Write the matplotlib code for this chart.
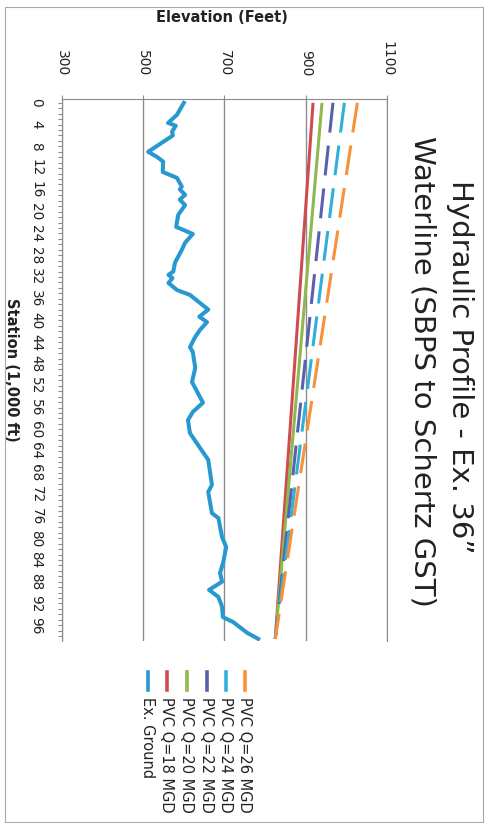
import matplotlib
matplotlib.use("Agg")
import matplotlib.pyplot as plt
from matplotlib.lines import Line2D
from matplotlib.patches import Rectangle

# ground profile (station in 1,000 ft, elevation in ft)
ground_station = [0, 2.2, 3.7, 4.2, 5.3, 6.0, 9.0, 9.9, 10.8, 12.7, 13.8, 15.4, 15.9,
                  16.9, 17.8, 18.8, 20.6, 22.8, 24.1, 25.7, 27.0, 29.4, 31.0, 31.6,
                  32.2, 33.1, 34.4, 35.3, 36.8, 38.0, 39.3, 40.3, 41.7, 43.0, 44.9,
                  45.8, 48.7, 51.3, 55.1, 56.8, 58.3, 60.7, 64.2, 65.6, 70.2, 71.5,
                  75.4, 76.3, 79.8, 81.6, 84.4, 86.4, 88.0, 89.5, 90.8, 92.6, 94.5,
                  95.4, 97.4, 98.5]
ground_elev = [600, 583, 561, 580, 571, 573, 512, 533, 549, 548, 583, 595, 590,
               603, 590, 603, 586, 581, 622, 603, 595, 578, 574, 562,
               572, 562, 583, 615, 640, 660, 638, 657, 640, 628, 615,
               622, 628, 620, 647, 622, 610, 615, 647, 660, 669, 660,
               669, 685, 694, 704, 697, 689, 694, 662, 685, 694, 696,
               721, 756, 783]

# hydraulic grade lines (straight, SBPS to GST)
hgl_station = [0, 98.5]
hgl_labels = ["PVC Q=18 MGD", "PVC Q=20 MGD", "PVC Q=22 MGD", "PVC Q=24 MGD", "PVC Q=26 MGD"]
hgl_start = [918, 940, 967, 995, 1027]
hgl_end = [825, 825, 825, 825, 825]
hgl_colors = ["#cf4b4f", "#8fb84e", "#5b60ad", "#2fb0da", "#f7923a"]
hgl_dashed = [False, False, True, True, True]

ground_label = "Ex. Ground"
ground_color = "#2898d0"

elev_ticks = [300, 500, 700, 900, 1100]
station_ticks = list(range(0, 97, 4))

W, H = 489, 823
fig = plt.figure(figsize=(W / 100, H / 100), dpi=100)
plt.rcParams['font.family'] = ['DejaVu Sans']
txt = "#222222"

ax = fig.add_axes([62 / W, 1 - 640.5 / H, 325 / W, 541.5 / H])
grey = "#8c8c8c"

for lab, s, e, c, d in zip(hgl_labels, hgl_start, hgl_end, hgl_colors, hgl_dashed):
    ls = (0, (9.8, 4.3)) if d else "-"
    ax.plot([s, e], hgl_station, color=c, lw=2.2, linestyle=ls,
            dash_capstyle="butt", solid_capstyle="butt")
ax.plot(ground_elev, ground_station, color=ground_color, lw=2.9, solid_joinstyle="round")

ax.set_xlim(300, 1100)
ax.set_ylim(98.8, -0.7)
ax.set_axisbelow(True)

ax.xaxis.tick_top()
ax.set_xticks(elev_ticks)
ax.set_xticklabels([str(t) for t in elev_ticks])
ax.tick_params(axis="x", length=2.9, width=0.8, color=grey, pad=13.5,
               labelsize=10, labelcolor=txt, labelrotation=-90)
ax.grid(axis="x", color=grey, lw=1)

ax.set_yticks(station_ticks)
ax.set_yticks(range(0, 99), minor=True)
ax.set_yticklabels([str(t) for t in station_ticks])
ax.tick_params(axis="y", which="both", length=2.9, width=0.8, color=grey, pad=10.5,
               labelsize=9.8, labelcolor=txt, labelrotation=-90)
for t in ax.get_yticklabels():
    t.set_va("center")

for side in ["top", "left", "right"]:
    ax.spines[side].set_color(grey)
    ax.spines[side].set_linewidth(0.8)
ax.spines["bottom"].set_visible(False)

# axis titles and chart title, rotated like the scanned page
fig.text(222 / W, 1 - 17 / H, "Elevation (Feet)", ha="center", va="center",
         fontsize=10.5, fontweight="bold", color=txt)
fig.text(11 / W, 1 - 370 / H, "Station (1,000 ft)", ha="center", va="center",
         rotation=-90, fontsize=10.5, fontweight="bold", color=txt)
fig.text(460 / W, 1 - 367 / H, "Hydraulic Profile - Ex. 36\u201d", ha="center", va="center",
         rotation=-90, fontsize=21, color=txt)
fig.text(422 / W, 1 - 371 / H, "Waterline (SBPS to Schertz GST)", ha="center", va="center",
         rotation=-90, fontsize=21, color=txt)

# legend, Q=26 on the right down to the ground line on the left
leg_labels = hgl_labels[::-1] + [ground_label]
leg_colors = hgl_colors[::-1] + [ground_color]
leg_x = [245, 226, 207, 187, 167, 148]
for x, lab, c in zip(leg_x, leg_labels, leg_colors):
    fig.add_artist(Line2D([x / W, x / W], [1 - 672 / H, 1 - 690 / H],
                          transform=fig.transFigure, color=c, lw=2.6))
    fig.text(x / W, 1 - 697 / H, lab, ha="center", va="top", rotation=-90,
             fontsize=10.5, color=txt)

fig.add_artist(Rectangle((5 / W, 1 / H), 478 / W, 815 / H, fill=False,
                         ec="#a8a8a8", lw=0.8, transform=fig.transFigure))

fig.savefig("out.png", dpi=100)
